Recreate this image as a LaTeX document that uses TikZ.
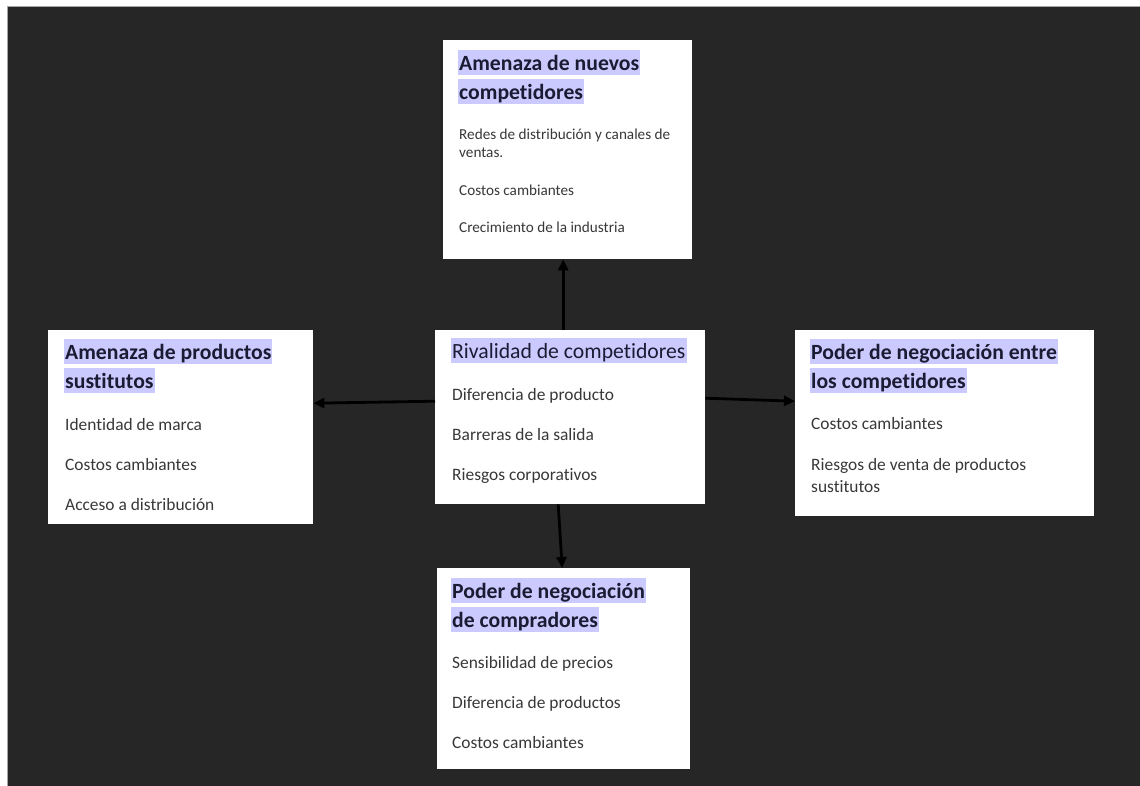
\documentclass[tikz,border=0pt]{standalone}
\usepackage{fontspec}
\setmainfont{Carlito}[Ligatures=NoCommon]
\usetikzlibrary{arrows.meta}
\definecolor{bg}{HTML}{262626}
\definecolor{hlfill}{HTML}{CACAFF}
\definecolor{ttl}{HTML}{1B1B33}
\definecolor{bodytx}{HTML}{383838}
\tikzset{
  card/.style={fill=white, draw=none, inner sep=0, anchor=north west},
  head/.style={anchor=base west, inner xsep=1pt, inner ysep=0, fill=hlfill, text=ttl,
    font=\fontsize{21.7}{26}\selectfont\bfseries, text height=20.5pt, text depth=4.5pt},
  headlight/.style={head, font=\fontsize{21.7}{26}\selectfont},
  itemtx/.style={anchor=base west, inner sep=0, text=bodytx, font=\fontsize{17.4}{21}\selectfont},
  smalltx/.style={itemtx, font=\fontsize{15.2}{18}\selectfont},
  link/.style={line width=2.8pt, black, -{Triangle[length=11pt,width=10pt]}}
}
\begin{document}
\begin{tikzpicture}[x=1pt,y=-1pt]
  % page and dark canvas
  \useasboundingbox (0,0) rectangle (1140,785);
  \fill[white] (0,0) rectangle (1140,785);
  \fill[bg] (7.5,6.5) rectangle (1146,791);
  \draw[gray!70, line width=0.8pt] (7.5,791) -- (7.5,6.5) -- (1146,6.5);

  % cards
  \node[card, minimum width=249pt, minimum height=219pt] (top) at (443,40) {};
  \node[card, minimum width=265pt, minimum height=194pt] (lft) at (48,330) {};
  \node[card, minimum width=270pt, minimum height=174pt] (ctr) at (435,330) {};
  \node[card, minimum width=299pt, minimum height=186pt] (rgt) at (795,330) {};
  \node[card, minimum width=253pt, minimum height=201pt] (bot) at (437,568) {};

  % threat of new entrants
  \node[head] (topH1) at (458,70) {Amenaza de nuevos};
  \node[head] (topH2) at (458,99) {competidores};
  \node[smalltx] (topA) at (459,139) {Redes de distribución y canales de};
  \node[smalltx] (topB) at (459,157.5) {ventas.};
  \node[smalltx] (topC) at (459,195) {Costos cambiantes};
  \node[smalltx] (topD) at (459,232) {Crecimiento de la industria};

  % threat of substitutes
  \node[head] (lftH1) at (64,359) {Amenaza de productos};
  \node[head] (lftH2) at (64,388) {sustitutos};
  \node[itemtx] (lftA) at (65,430) {Identidad de marca};
  \node[itemtx] (lftB) at (65,470) {Costos cambiantes};
  \node[itemtx] (lftC) at (65,510) {Acceso a distribución};

  % rivalry
  \node[headlight] (ctrH) at (451,358) {Rivalidad de competidores};
  \node[itemtx] (ctrA) at (452,400) {Diferencia de producto};
  \node[itemtx] (ctrB) at (452,440) {Barreras de la salida};
  \node[itemtx] (ctrC) at (452,480) {Riesgos corporativos};

  % bargaining power among competitors
  \node[head] (rgtH1) at (810,359) {Poder de negociación entre};
  \node[head] (rgtH2) at (810,388) {los competidores};
  \node[itemtx] (rgtA) at (811,429) {Costos cambiantes};
  \node[itemtx] (rgtB) at (811,470) {Riesgos de venta de productos};
  \node[itemtx] (rgtC) at (811,492) {sustitutos};

  % bargaining power of buyers
  \node[head] (botH1) at (451,598) {Poder de negociación};
  \node[head] (botH2) at (451,627) {de compradores};
  \node[itemtx] (botA) at (452,668) {Sensibilidad de precios};
  \node[itemtx] (botB) at (452,708) {Diferencia de productos};
  \node[itemtx] (botC) at (452,748) {Costos cambiantes};

  % connectors
  \draw[link] ([xshift=-7pt]ctr.north) -- ([xshift=-4.5pt]top.south);
  \draw[link] ([yshift=16pt]ctr.west) -- ([yshift=24pt]lft.east);
  \draw[link] ([yshift=19pt]ctr.east) -- ([yshift=22pt]rgt.west);
  \draw[link] ([xshift=-12pt]ctr.south) -- ([xshift=-1.5pt]bot.north);
\end{tikzpicture}
\end{document}
